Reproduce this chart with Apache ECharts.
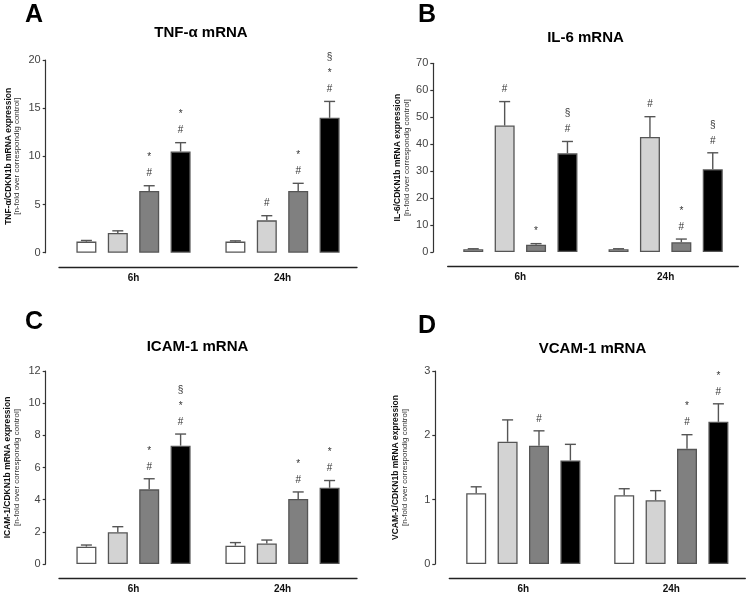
<!DOCTYPE html>
<html>
<head>
<meta charset="utf-8">
<script src="https://cdn.jsdelivr.net/npm/echarts@6/dist/echarts.min.js"></script>
<style>html,body{margin:0;padding:0;background:#fff}#c{width:750px;height:595px}</style>
</head>
<body>
<div id="c"></div>
<script>
// ---- data ----
const categories = ['6h', '24h'];

// each inner array: [6h, 24h] for one treatment group (white, light grey, dark grey, black)
const tnfMean  = [[1.15, 1.15], [2.05, 3.36], [6.4, 6.4], [10.5, 14.0]];
const tnfErr   = [[0.12, 0.08], [0.22, 0.48], [0.55, 0.8], [0.92, 1.7]];
const tnfMarks = [['', ''], ['', '#'], ['*\n#', '*\n#'], ['*\n#', '§\n*\n#']];

const il6Mean  = [[1.0, 1.0], [46.9, 42.7], [2.7, 3.6], [36.6, 30.7]];
const il6Err   = [[0.2, 0.2], [8.9, 7.5], [0.4, 1.2], [4.4, 6.1]];
const il6Marks = [['', ''], ['#', '#'], ['*', '*\n#'], ['§\n#', '§\n#']];

const icamMean  = [[1.08, 1.14], [1.97, 1.28], [4.64, 4.04], [7.36, 4.74]];
const icamErr   = [[0.1, 0.19], [0.35, 0.21], [0.66, 0.44], [0.72, 0.45]];
const icamMarks = [['', ''], ['', ''], ['*\n#', '*\n#'], ['§\n*\n#', '*\n#']];

const vcamMean  = [[1.10, 1.07], [1.90, 0.99], [1.84, 1.79], [1.61, 2.21]];
const vcamErr   = [[0.10, 0.10], [0.34, 0.15], [0.23, 0.22], [0.25, 0.28]];
const vcamMarks = [['', ''], ['', ''], ['#', '*\n#'], ['', '*\n#']];

const yMax      = [20, 70, 12, 3];
const yInterval = [5, 10, 2, 1];
const titles    = ['TNF-α mRNA', 'IL-6 mRNA', 'ICAM-1 mRNA', 'VCAM-1 mRNA'];
const letters   = ['A', 'B', 'C', 'D'];
const yNames    = ['TNF-α/CDKN1b mRNA expression', 'IL-6/CDKN1b mRNA expression',
                   'ICAM-1/CDKN1b mRNA expression', 'VCAM-1/CDKN1b mRNA expression'];
const yNameSub  = '[n-fold over correspondig control]';
const barColors = ['#ffffff', '#d3d3d3', '#808080', '#000000'];

// ---- layout (styles / positions) ----
const panels = [
  {mean: tnfMean, err: tnfErr, marks: tnfMarks, grid: {left: 59, top: 60, width: 298, height: 192.7}, yOff: 13.3, xOff: 14.3, nameGap: 24,
   title: [201, 33], letter: [25, 15]},
  {mean: il6Mean, err: il6Err, marks: il6Marks, grid: {left: 447.7, top: 63.3, width: 290.6, height: 188.7}, yOff: 14.4, xOff: 14, nameGap: 22,
   title: [585.5, 38], letter: [418, 15]},
  {mean: icamMean, err: icamErr, marks: icamMarks, grid: {left: 59, top: 371, width: 298, height: 193}, yOff: 13.3, xOff: 14.3, nameGap: 24.5,
   title: [197.5, 346.7], letter: [25, 322]},
  {mean: vcamMean, err: vcamErr, marks: vcamMarks, grid: {left: 449.3, top: 371, width: 296, height: 193}, yOff: 14, xOff: 14.3, nameGap: 26.5,
   title: [592.5, 349], letter: [418, 326]}
];

const BAR_W = 20, BAR_GAP = 0.57;
const FONT = 'Liberation Sans, Arial, Helvetica, sans-serif';

const grids = [], xAxes = [], yAxes = [], series = [], graphics = [];

panels.forEach((p, pi) => {
  grids.push(Object.assign({containLabel: false}, p.grid));
  xAxes.push({
    type: 'category', gridIndex: pi, data: categories, offset: p.xOff,
    axisLine: {onZero: false, lineStyle: {color: '#222', width: 1.3}},
    axisTick: {show: false},
    axisLabel: {color: '#111', fontWeight: 'bold', fontSize: 10, fontFamily: FONT, margin: 6}
  });
  yAxes.push({
    type: 'value', gridIndex: pi, min: 0, max: yMax[pi], interval: yInterval[pi], offset: p.yOff,
    splitLine: {show: false},
    axisLine: {show: true, onZero: false, lineStyle: {color: '#333', width: 1.2}},
    axisTick: {show: true, length: 3, lineStyle: {color: '#333', width: 1.2}},
    axisLabel: {color: '#444', fontSize: 11, fontFamily: FONT, margin: 5},
    name: '{b|' + yNames[pi] + '}\n{n|' + yNameSub + '}',
    nameLocation: 'middle', nameRotate: 90, nameGap: p.nameGap,
    nameTextStyle: {
      rich: {
        b: {fontSize: 8.5, fontWeight: 'bold', fontFamily: FONT, color: '#111', lineHeight: 9},
        n: {fontSize: 8, fontFamily: FONT, color: '#333', lineHeight: 9}
      }
    }
  });
  const nGroups = p.mean.length;
  p.mean.forEach((vals, k) => {
    series.push({
      type: 'bar', xAxisIndex: pi, yAxisIndex: pi, data: vals,
      barWidth: BAR_W, barGap: (BAR_GAP * 100) + '%',
      itemStyle: {color: barColors[k], borderColor: '#555', borderWidth: 1.3},
      silent: true, z: 2
    });
  });
  // error bars + significance marks
  const items = [];
  p.mean.forEach((vals, k) => {
    vals.forEach((v, c) => items.push({value: [c, k, v, p.err[k][c]], mark: p.marks[k][c]}));
  });
  series.push({
    type: 'custom', xAxisIndex: pi, yAxisIndex: pi, z: 5, silent: true,
    encode: {x: 0, y: 2},
    data: items.map(d => d.value),
    renderItem: function (params, api) {
      const c = api.value(0), k = api.value(1), m = api.value(2), e = api.value(3);
      const step = BAR_W * (1 + BAR_GAP);
      const base = api.coord([c, m]);
      const top = api.coord([c, m + e]);
      const x = base[0] + (k - (nGroups - 1) / 2) * step;
      const mark = items[params.dataIndex].mark;
      const children = [
        {type: 'line', shape: {x1: x, y1: base[1], x2: x, y2: top[1]}, style: {stroke: '#555', lineWidth: 1.4}},
        {type: 'line', shape: {x1: x - 5.5, y1: top[1], x2: x + 5.5, y2: top[1]}, style: {stroke: '#555', lineWidth: 1.4}}
      ];
      if (mark) {
        children.push({type: 'text', style: {
          x: x, y: top[1] - 4, text: mark, align: 'center', verticalAlign: 'bottom',
          fontSize: 10, lineHeight: 16, fontFamily: FONT, fill: '#333'
        }});
      }
      return {type: 'group', children: children};
    }
  });
  graphics.push({type: 'text', x: p.title[0], y: p.title[1], style: {
    text: titles[pi], align: 'center', verticalAlign: 'middle', fontSize: 15, fontWeight: 'bold', fontFamily: FONT, fill: '#000'}});
  graphics.push({type: 'text', x: p.letter[0], y: p.letter[1], style: {
    text: letters[pi], align: 'left', verticalAlign: 'middle', fontSize: 25, fontWeight: 'bold', fontFamily: FONT, fill: '#000'}});
});

const chart = echarts.init(document.getElementById('c'), null, {renderer: 'canvas'});
chart.setOption({
  animation: false,
  backgroundColor: '#fff',
  grid: grids, xAxis: xAxes, yAxis: yAxes, series: series, graphic: graphics
});
</script>
</body>
</html>
